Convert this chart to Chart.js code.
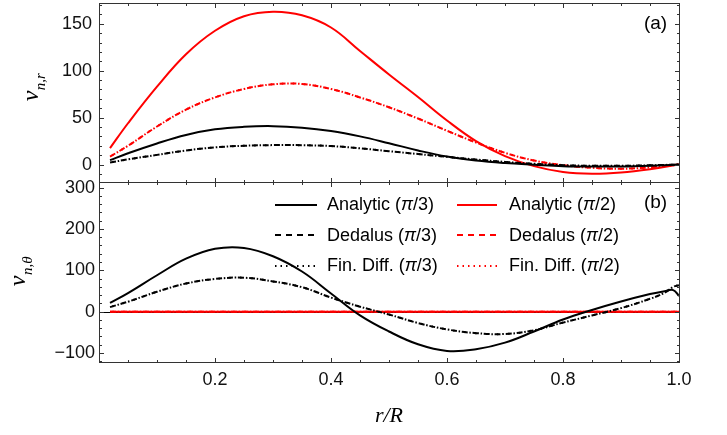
<!DOCTYPE html>
<html>
<head>
<meta charset="utf-8">
<script src="https://cdn.jsdelivr.net/npm/chart.js@4"></script>
<style>
    html, body { margin: 0; padding: 0; background: #fff; }
    #wrap { position: relative; width: 727px; height: 435px; overflow: hidden; }
    .panel { position: absolute; left: 0; width: 727px; }
    #panel-a { top: 0; height: 183px; }
    #panel-b { top: 170px; height: 265px; }
</style>
</head>
<body>
<div id="wrap">
    <div class="panel" id="panel-a"><canvas id="chart-a" width="727" height="183"></canvas></div>
    <div class="panel" id="panel-b"><canvas id="chart-b" width="727" height="265"></canvas></div>
</div>
<script>
// r/R sample positions
const rA = [0.019, 0.05, 0.1, 0.15, 0.2, 0.25, 0.3, 0.35, 0.4, 0.45, 0.5, 0.55, 0.6, 0.65, 0.7, 0.75, 0.8, 0.85, 0.9, 0.95, 1.0];
const rB = [0.019, 0.05, 0.1, 0.15, 0.2, 0.25, 0.3, 0.35, 0.4, 0.45, 0.5, 0.55, 0.6, 0.65, 0.7, 0.75, 0.8, 0.85, 0.9, 0.95, 0.975, 0.99, 1.0];

// (a) radial velocity
const vrAnalytic3 = [4.7, 12, 22.5, 31.5, 37.5, 40.2, 40.9, 39.3, 35.7, 30, 22.7, 15, 8.5, 4.3, 1.6, -0.2, -1.8, -2.2, -2, -1.2, 0];
const vrNumeric3 = [2.2, 5.5, 10.3, 15, 18.3, 20, 20.7, 20.6, 19.7, 17.3, 14.2, 11.2, 8.2, 5.3, 2.8, 0.8, -0.7, -1.3, -1.3, -0.8, 0];
const vrAnalytic2 = [17.5, 44, 83, 117.5, 142.5, 158, 162.8, 159, 146, 121, 96, 72, 47, 25, 9, -1.7, -7.9, -9.8, -8.5, -5, 0];
const vrNumeric2 = [8.5, 20, 40.5, 58.5, 71.5, 80.5, 85.5, 85.8, 80.5, 71.5, 61, 49, 36, 23.5, 12.5, 4.3, -0.7, -3.5, -4.5, -3, 0];

// (b) polar velocity
const vtAnalytic3 = [21, 45, 88, 128, 152, 154, 134, 97, 44, -9, -48, -79, -95, -91, -75, -48, -19, 4, 24.5, 42.5, 49.5, 52, 38];
const vtNumeric3 = [11, 24, 48, 68, 79, 82, 73, 59, 34, 12, -7, -27.5, -43, -52, -54, -45, -26.5, -9.2, 8.5, 31, 45.5, 60, 64];
const vtPi2 = [0, 0, 0, 0, 0, 0, 0, 0, 0, 0, 0, 0, 0, 0, 0, 0, 0, 0, 0, 0, 0, 0, 0];

const rTicks = [0.2, 0.4, 0.6, 0.8, 1.0];
const vrTicks = [0, 50, 100, 150];
const vtTicks = [-100, 0, 100, 200, 300];

const seriesLabels = [
    "Analytic (π/3)", "Dedalus (π/3)", "Fin. Diff. (π/3)",
    "Analytic (π/2)", "Dedalus (π/2)", "Fin. Diff. (π/2)",
];

const RED = "#ff0000";
const BLACK = "#000000";
const FRAME = "#333333";
const DASH = [6, 5];
const DOT = [1.5, 4];
const DOT_OFFSET = 3.25; // puts every other dot into the dash gaps
const SANS = "'Liberation Sans', Arial, sans-serif";
const SERIF = "'Liberation Serif', 'Times New Roman', serif";
const TICK_FONT = { family: SANS, size: 18 };

const minorTicks = (from, to, step, major) => {
    const out = [];
    for (let v = from; v <= to + 1e-9; v += step) {
        const r = Math.round(v * 1000) / 1000;
        if (!major.some((m) => Math.abs(m - r) < 1e-9)) out.push(r);
    }
    return out;
};

const fmt = (v) => (v < 0 ? "\u2212" + Math.abs(v) : String(v));

const line = (label, xs, ys, color, dash, offset) => ({
    label: label,
    data: xs.map((r, i) => ({ x: r, y: ys[i] })),
    borderColor: color,
    borderWidth: 2,
    borderDash: dash,
    borderDashOffset: offset || 0,
    pointRadius: 0,
    tension: 0.4,
    fill: false,
});

const makeSeries = (xs, analytic3, numeric3, analytic2, numeric2) => [
    line(seriesLabels[0], xs, analytic3, BLACK, []),
    line(seriesLabels[1], xs, numeric3, BLACK, DASH),
    line(seriesLabels[2], xs, numeric3, BLACK, DOT, DOT_OFFSET),
    line(seriesLabels[3], xs, analytic2, RED, []),
    line(seriesLabels[4], xs, numeric2, RED, DASH),
    line(seriesLabels[5], xs, numeric2, RED, DOT, DOT_OFFSET),
];

const yScale = (min, max, ticks, pad) => ({
    type: "linear",
    min: min,
    max: max,
    grid: { display: false, drawTicks: false },
    border: { display: false },
    afterBuildTicks: (s) => {
        s.ticks = ticks.map((value) => ({ value }));
    },
    afterFit: (s) => {
        s.width = 99;
        s.paddingTop = 0;
        s.paddingBottom = 0;
    },
    ticks: { autoSkip: false, padding: pad, color: "#111", font: TICK_FONT, callback: (v) => fmt(v) },
});

// text with a lowered, smaller second part, rotated to read upwards
const drawAxisName = (ctx, cx, cy, base, sub) => {
    ctx.save();
    ctx.translate(cx, cy);
    ctx.rotate(-Math.PI / 2);
    const mainFont = "italic 24px " + SERIF;
    const subFont = "italic 15px " + SERIF;
    ctx.font = mainFont;
    const w1 = ctx.measureText(base).width;
    ctx.font = subFont;
    const w2 = ctx.measureText(sub).width;
    const x0 = -(w1 + w2) / 2;
    ctx.fillStyle = BLACK;
    ctx.textBaseline = "alphabetic";
    ctx.font = mainFont;
    ctx.fillText(base, x0, 0);
    ctx.font = subFont;
    ctx.fillText(sub, x0 + w1 + 0.5, 6.5);
    ctx.restore();
};

// label with an italic pi
const drawLabel = (ctx, text, x, y) => {
    const [pre, post] = text.split("π");
    const up = "18px " + SANS;
    const it = "italic 18px " + SANS;
    ctx.font = up;
    ctx.fillText(pre, x, y);
    x += ctx.measureText(pre).width;
    ctx.font = it;
    ctx.fillText("π", x, y);
    x += ctx.measureText("π").width;
    ctx.font = up;
    ctx.fillText(post, x, y);
};

const decor = {
    id: "decor",
    beforeDatasetsDraw(chart, args, opts) {
        if (!opts.zeroLine) return;
        const { ctx, chartArea, scales } = chart;
        const py = Math.round(scales.y.getPixelForValue(0)) + 0.5;
        ctx.save();
        ctx.strokeStyle = BLACK;
        ctx.lineWidth = 1;
        ctx.beginPath();
        ctx.moveTo(chartArea.left, py);
        ctx.lineTo(chartArea.right, py);
        ctx.stroke();
        ctx.restore();
    },
    afterDraw(chart, args, opts) {
        const { ctx, chartArea, scales } = chart;
        const { left, right, top, bottom } = chartArea;
        ctx.save();

        // frame with inward ticks on every side
        ctx.strokeStyle = FRAME;
        ctx.lineWidth = 1;
        ctx.strokeRect(left + 0.5, top + 0.5, right - left, bottom - top);
        ctx.beginPath();
        const xTick = (v, len) => {
            const p = Math.round(scales.x.getPixelForValue(v)) + 0.5;
            ctx.moveTo(p, top);
            ctx.lineTo(p, top + len);
            ctx.moveTo(p, bottom + 1);
            ctx.lineTo(p, bottom + 1 - len);
        };
        const yTick = (v, len) => {
            const p = Math.round(scales.y.getPixelForValue(v)) + 0.5;
            ctx.moveTo(left, p);
            ctx.lineTo(left + len, p);
            ctx.moveTo(right + 1, p);
            ctx.lineTo(right + 1 - len, p);
        };
        opts.xMajor.forEach((v) => xTick(v, 5));
        opts.xMinor.forEach((v) => xTick(v, 3));
        opts.yMajor.forEach((v) => yTick(v, 5));
        opts.yMinor.forEach((v) => yTick(v, 3));
        ctx.stroke();

        // panel tag
        ctx.fillStyle = BLACK;
        ctx.font = "19px " + SANS;
        ctx.textAlign = "center";
        ctx.textBaseline = "alphabetic";
        ctx.fillText(opts.tag, 655.5, opts.tagY);
        ctx.textAlign = "left";

        drawAxisName(ctx, opts.nameX, opts.nameY, "v", opts.sub);

        if (opts.legend) {
            const cols = [
                { x0: 275, x1: 317, tx: 327 },
                { x0: 457, x1: 497, tx: 509 },
            ];
            const lineY = [35, 65, 96];
            const textY = [40, 70.5, 101];
            chart.data.datasets.forEach((ds, i) => {
                const c = cols[Math.floor(i / 3)];
                const row = i % 3;
                ctx.strokeStyle = ds.borderColor;
                ctx.lineWidth = 2;
                ctx.setLineDash(ds.borderDash);
                ctx.lineDashOffset = 0;
                ctx.beginPath();
                ctx.moveTo(c.x0, lineY[row]);
                ctx.lineTo(c.x1, lineY[row]);
                ctx.stroke();
                ctx.setLineDash([]);
                ctx.fillStyle = BLACK;
                drawLabel(ctx, ds.label, c.tx, textY[row]);
            });
        }
        ctx.restore();
    },
};

const rMinor = minorTicks(0.05, 0.95, 0.05, rTicks);

const chartA = new Chart(document.getElementById("chart-a"), {
    type: "line",
    data: { datasets: makeSeries(rA, vrAnalytic3, vrNumeric3, vrAnalytic2, vrNumeric2) },
    plugins: [decor],
    options: {
        responsive: false,
        animation: false,
        events: [],
        layout: { padding: { top: 3, right: 48, bottom: 1, left: 0 } },
        plugins: {
            legend: { display: false },
            tooltip: { enabled: false },
            decor: {
                xMajor: rTicks,
                xMinor: rMinor,
                yMajor: vrTicks,
                yMinor: minorTicks(-10, 170, 10, vrTicks),
                tag: "(a)",
                tagY: 29,
                nameX: 38,
                nameY: 87.5,
                sub: "n,r",
                zeroLine: false,
                legend: false,
            },
        },
        scales: {
            x: { type: "linear", min: 0, max: 1, display: false },
            y: yScale(-18.6, 172.1, vrTicks, 7),
        },
    },
});

const chartB = new Chart(document.getElementById("chart-b"), {
    type: "line",
    data: { datasets: makeSeries(rB, vtAnalytic3, vtNumeric3, vtPi2, vtPi2) },
    plugins: [decor],
    options: {
        responsive: false,
        animation: false,
        events: [],
        layout: { padding: { top: 12, right: 48, bottom: 0, left: 0 } },
        plugins: {
            legend: { display: false },
            tooltip: { enabled: false },
            decor: {
                xMajor: rTicks,
                xMinor: rMinor,
                yMajor: vtTicks,
                yMinor: minorTicks(-120, 300, 20, vtTicks),
                tag: "(b)",
                tagY: 38,
                nameX: 25,
                nameY: 101.5,
                sub: "n,θ",
                zeroLine: true,
                legend: true,
            },
        },
        scales: {
            x: {
                type: "linear",
                min: 0,
                max: 1,
                grid: { display: false, drawTicks: false },
                border: { display: false },
                afterBuildTicks: (s) => {
                    s.ticks = rTicks.map((value) => ({ value }));
                },
                afterFit: (s) => {
                    s.height = 73;
                    s.paddingLeft = 0;
                    s.paddingRight = 0;
                },
                ticks: {
                    autoSkip: false,
                    maxRotation: 0,
                    padding: 7,
                    color: "#111",
                    font: TICK_FONT,
                    callback: (v) => Number(v).toFixed(1),
                },
                title: {
                    display: true,
                    text: "r/R",
                    color: BLACK,
                    font: { family: SERIF, style: "italic", size: 22 },
                    padding: { top: 0, bottom: 6 },
                },
            },
            y: yScale(-121.8, 313.5, vtTicks, 4),
        },
    },
});
</script>
</body>
</html>
